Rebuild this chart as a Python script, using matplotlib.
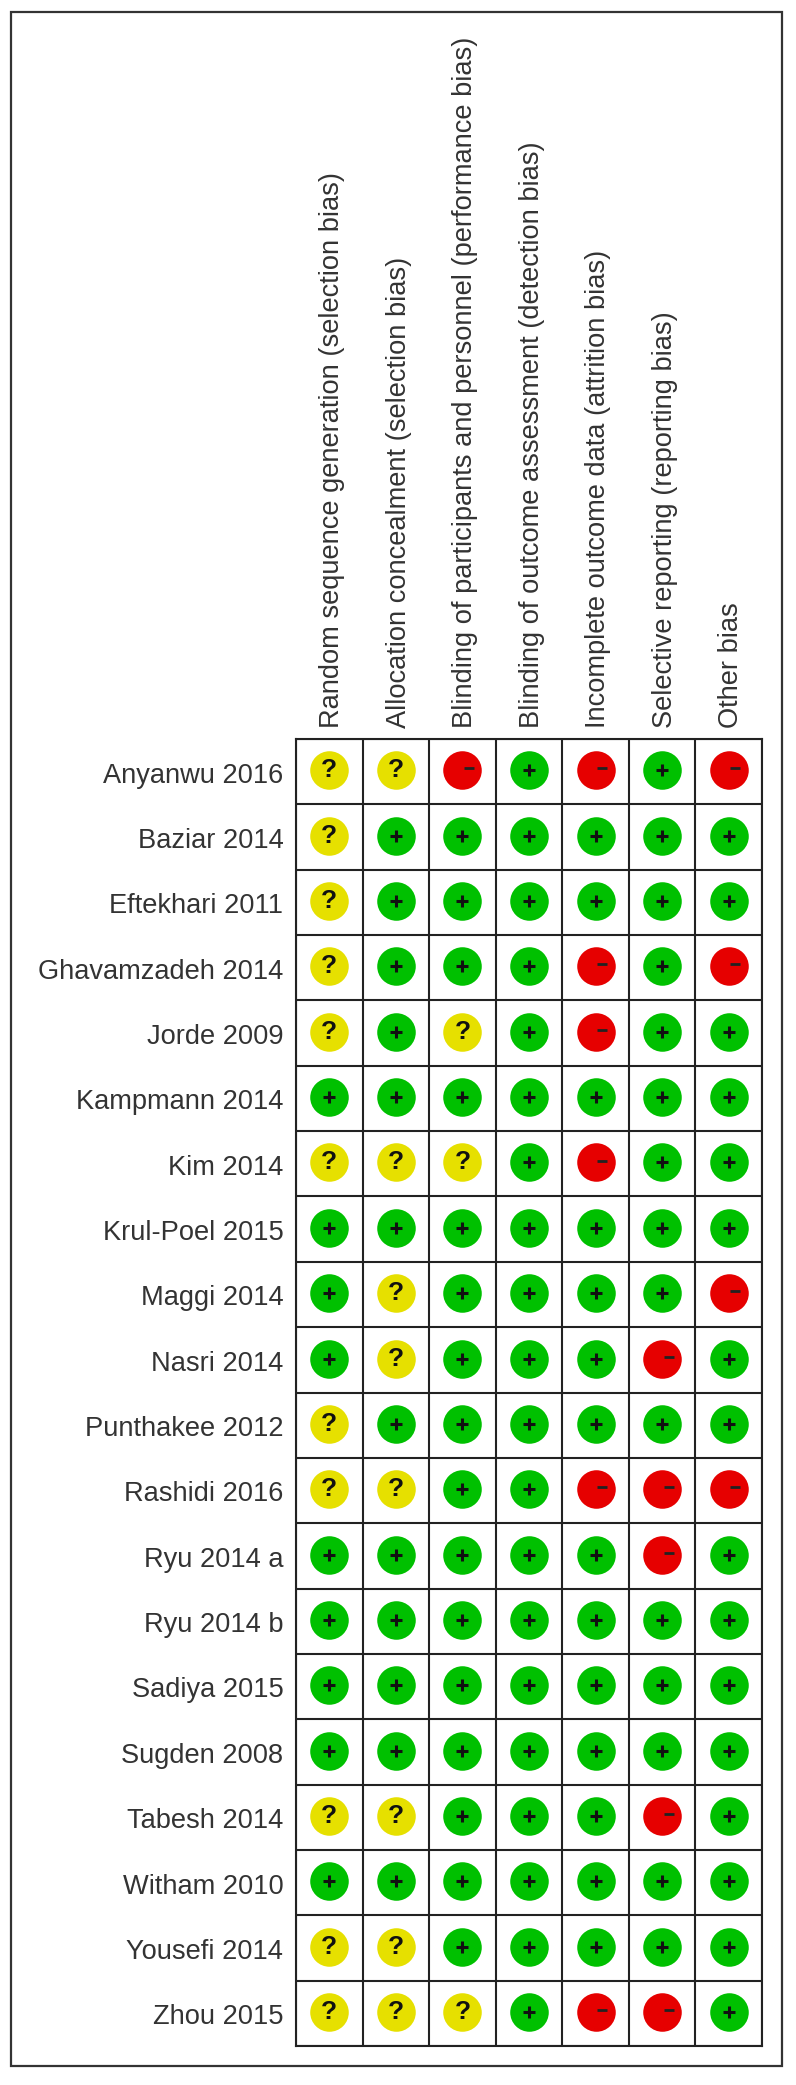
import matplotlib
matplotlib.use('Agg')
import matplotlib.pyplot as plt
from matplotlib.patches import Rectangle

plt.rcParams['font.family'] = ['Liberation Sans', 'DejaVu Sans']

W, H = 796, 2085

domains = ['Random sequence generation (selection bias)',
           'Allocation concealment (selection bias)',
           'Blinding of participants and personnel (performance bias)',
           'Blinding of outcome assessment (detection bias)',
           'Incomplete outcome data (attrition bias)',
           'Selective reporting (reporting bias)',
           'Other bias']

studies = ['Anyanwu 2016', 'Baziar 2014', 'Eftekhari 2011', 'Ghavamzadeh 2014',
           'Jorde 2009', 'Kampmann 2014', 'Kim 2014', 'Krul-Poel 2015',
           'Maggi 2014', 'Nasri 2014', 'Punthakee 2012', 'Rashidi 2016',
           'Ryu 2014 a', 'Ryu 2014 b', 'Sadiya 2015', 'Sugden 2008',
           'Tabesh 2014', 'Witham 2010', 'Yousefi 2014', 'Zhou 2015']

# one string per study, one sign per domain
ratings = ['??-+-+-', '?++++++', '?++++++', '?+++-+-', '?+?+-++',
           '+++++++', '???+-++', '+++++++', '+?++++-', '+?+++-+',
           '?++++++', '??++---', '+++++-+', '+++++++', '+++++++',
           '+++++++', '??+++-+', '+++++++', '??+++++', '???+--+']

colors = {'+': '#00c000', '?': '#e6e000', '-': '#e60000'}

fig = plt.figure(figsize=(W / 100, H / 100), dpi=100, facecolor='white')

# outer frame
fig.add_artist(Rectangle((11 / W, 1 - 2066 / H), 771 / W, 2054 / H, transform=fig.transFigure,
                         fill=False, edgecolor='#333333', linewidth=1.6))

ax = fig.add_axes([296 / W, 1 - 2046 / H, 466 / W, 1307 / H])
ax.set_xlim(0, len(domains))
ax.set_ylim(len(studies), 0)
ax.set_xticks(range(len(domains) + 1))
ax.set_yticks(range(len(studies) + 1))
ax.grid(True, color='#222222', linewidth=1.5)
ax.set_axisbelow(True)
ax.tick_params(length=0, labelbottom=False, labelleft=False)
for s in ax.spines.values():
    s.set_color('#222222')
    s.set_linewidth(1.5)

for r, row in enumerate(ratings):
    for c, sign in enumerate(row):
        x, y = c + 0.5, r + 0.48
        ax.scatter(x, y, s=770, color=colors[sign], linewidths=0, zorder=3)
        if sign == '+':
            ax.scatter(x, y, s=70, marker='+', color='#111111', linewidths=2.2, zorder=4)
        elif sign == '-':
            # the minus sits up and to the right in the circle
            ax.scatter(x + 0.1, y - 0.03, s=52, marker='_', color='#222222', linewidths=2.0, zorder=4)
        else:
            ax.text(x, y, '?', ha='center', va='center', fontsize=19, fontweight='bold',
                    color='#111111', zorder=4)

for r, name in enumerate(studies):
    ax.text(-0.19, r + 0.56, name, ha='right', va='center', fontsize=19.6, color='#333333')

for c, name in enumerate(domains):
    ax.text(c + 0.54, -0.17, name, rotation=90, ha='center', va='bottom', fontsize=19.6,
            color='#333333')

fig.savefig('out.png', dpi=100)
